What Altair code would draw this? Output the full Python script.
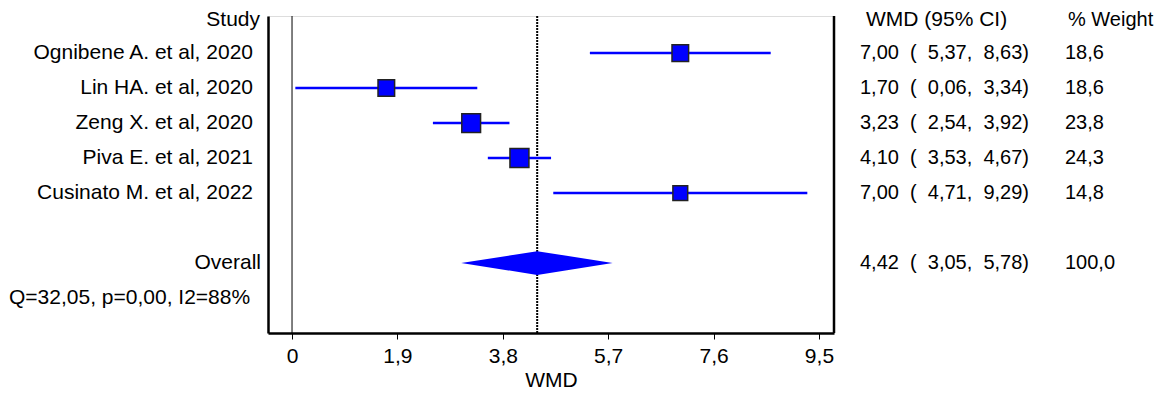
import altair as alt
import pandas as pd

# ---------------- data ----------------
studies = ["Ognibene A. et al, 2020", "Lin HA. et al, 2020", "Zeng X. et al, 2020",
           "Piva E. et al, 2021", "Cusinato M. et al, 2022"]
est = [7.00, 1.70, 3.23, 4.10, 7.00]
lo = [5.37, 0.06, 2.54, 3.53, 4.71]
hi = [8.63, 3.34, 3.92, 4.67, 9.29]
weight = [18.6, 18.6, 23.8, 24.3, 14.8]
study_rows = [1, 2, 3, 4, 5]

overall_label = "Overall"
overall_est = 4.42
overall_lo = 3.05
overall_hi = 5.78
overall_weight = 100.0
overall_row = 7

het_text = "Q=32,05, p=0,00, I2=88%"
het_row = 8

x_ticks = [0, 1.9, 3.8, 5.7, 7.6, 9.5]

# ---------------- style ----------------
FONT = "Liberation Sans"
FS = 21      # labels / headers
FS_NUM = 20  # numeric columns
W, H = 566, 317
BLUE = "#0000ff"
NB = "\u00a0"


def dec(v, n=2, width=0):
    s = f"{v:{width}.{n}f}".replace(".", ",")
    return s.replace(" ", NB)


def ci_str(e, l, h):
    return f"{dec(e)}{NB*2}({NB*2}{dec(l)},{NB*2}{dec(h)})"


studies_df = pd.DataFrame({
    "study": studies, "est": est, "lo": lo, "hi": hi, "weight": weight, "row": study_rows,
})

left_df = pd.DataFrame({"row": study_rows, "text": studies})
left2_df = pd.DataFrame({"row": [overall_row], "text": [overall_label]})
ci_df = pd.DataFrame({
    "row": study_rows + [overall_row],
    "text": [ci_str(e, l, h) for e, l, h in zip(est, lo, hi)] + [ci_str(overall_est, overall_lo, overall_hi)],
    "w": [dec(w, 1, 5) for w in weight] + [dec(overall_weight, 1, 5)],
})
header_df = pd.DataFrame({"row": [0]})
het_df = pd.DataFrame({"row": [het_row], "text": [het_text]})

DH = 0.34  # half-height of the diamond in row units
diamond_df = pd.DataFrame({
    "x": [overall_lo, overall_est, overall_hi],
    "y": [overall_row, overall_row - DH, overall_row],
    "y2": [overall_row, overall_row + DH, overall_row],
})
overall_df = pd.DataFrame({"x": [overall_est]})
zero_df = pd.DataFrame({"x": [0]})

x_scale = alt.Scale(domain=[-0.433, 9.771], nice=False, zero=False)
y_scale = alt.Scale(domain=[-0.06, 9.0], reverse=True, nice=False, zero=False)

xaxis = alt.Axis(values=x_ticks,
                 labelExpr="replace(format(datum.value, '.1~f'), '.', ',')",
                 title="WMD", grid=False, domainColor="black", domainWidth=2.5,
                 tickColor="black", tickSize=6, tickWidth=1,
                 labelFont=FONT, labelFontSize=FS, labelColor="black", labelFlush=False,
                 labelPadding=6, titlePadding=3,
                 titleFont=FONT, titleFontSize=FS, titleFontWeight="normal", titleColor="black")
yaxis = alt.Axis(labels=False, ticks=False, title=None, grid=False,
                 domainColor="black", domainWidth=2.5)


def X(field):
    return alt.X(field, type="quantitative", scale=x_scale, axis=xaxis)


def Y(field):
    return alt.Y(field, type="quantitative", scale=y_scale, axis=yaxis)


zero_rule = alt.Chart(zero_df).mark_rule(color="black", strokeWidth=1).encode(x=X("x"))
overall_rule = alt.Chart(overall_df).mark_rule(color="black", strokeWidth=2, strokeDash=[2, 1]).encode(x=X("x"))

ci_rules = alt.Chart(studies_df).mark_rule(color=BLUE, strokeWidth=2.5).encode(
    x=X("lo"), x2="hi", y=Y("row"))

squares = alt.Chart(studies_df).mark_point(shape="square", filled=True, fill=BLUE, opacity=1,
                                           stroke="#222222", strokeWidth=1.5).encode(
    x=X("est"), y=Y("row"),
    size=alt.Size("weight:Q", scale=alt.Scale(domain=[0, 25], range=[0, 370]), legend=None))

diamond = alt.Chart(diamond_df).mark_area(color=BLUE, orient="vertical", opacity=1).encode(
    x=X("x"), y=Y("y"), y2="y2")

right_frame = alt.Chart(zero_df).mark_rule(color="black", strokeWidth=2.5).encode(
    x=alt.value(W), y=alt.value(0), y2=alt.value(H))

txt = dict(font=FONT, fontSize=FS, color="black", baseline="middle")
num = dict(font=FONT, fontSize=FS_NUM, color="black", baseline="middle")

left_text = alt.Chart(left_df).mark_text(align="right", **txt).encode(
    x=alt.value(-15), y=Y("row"), text="text:N")
overall_text = alt.Chart(left2_df).mark_text(align="right", **txt).encode(
    x=alt.value(-7), y=Y("row"), text="text:N")
study_head = alt.Chart(header_df).mark_text(align="right", text="Study", dy=2, **txt).encode(
    x=alt.value(-8), y=Y("row"))
het = alt.Chart(het_df).mark_text(align="left", **txt).encode(
    x=alt.value(-259), y=Y("row"), text="text:N")

ci_text = alt.Chart(ci_df).mark_text(align="left", **num).encode(
    x=alt.value(592), y=Y("row"), text="text:N")
w_text = alt.Chart(ci_df).mark_text(align="left", **num).encode(
    x=alt.value(797), y=Y("row"), text="w:N")
ci_head = alt.Chart(header_df).mark_text(align="left", text="WMD (95% CI)", dy=2, **txt).encode(
    x=alt.value(598), y=Y("row"))
w_head = alt.Chart(header_df).mark_text(align="left", text="% Weight", dy=2, **num).encode(
    x=alt.value(800), y=Y("row"))

chart = alt.layer(
    zero_rule, overall_rule, ci_rules, squares, diamond, right_frame,
    left_text, overall_text, study_head, het, ci_text, w_text, ci_head, w_head,
).properties(
    width=W, height=H,
    autosize=alt.AutoSizeParams(type="none"),
    padding={"left": 260, "top": 8, "right": 320, "bottom": 62},
).configure_view(stroke=None).configure(background="white")

chart.save("out.html", embed_options={"renderer": "svg", "actions": False})
